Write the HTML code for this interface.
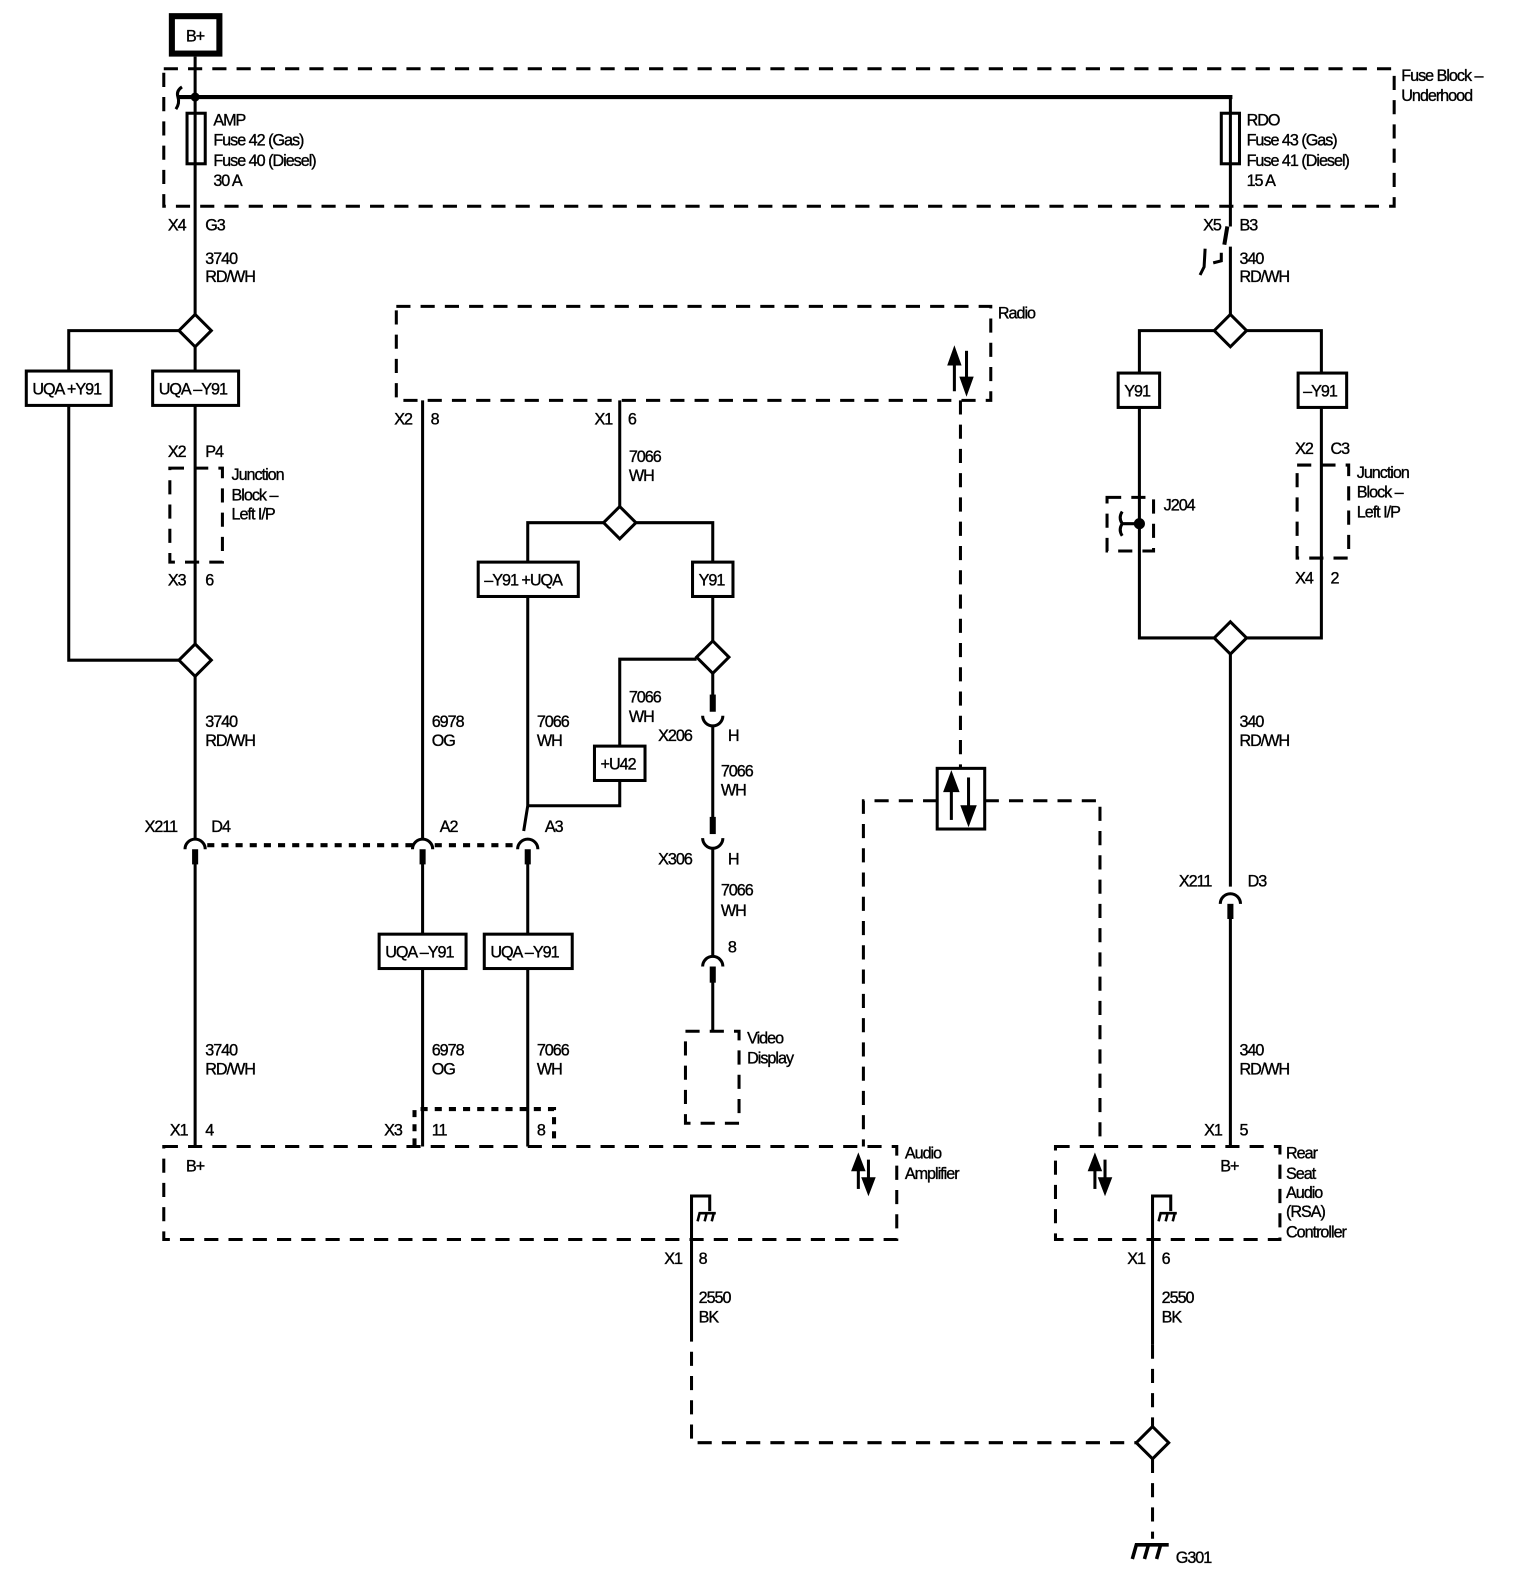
<!DOCTYPE html>
<html><head><meta charset="utf-8"><style>
html,body{margin:0;padding:0;background:#fff;}
svg{display:block;}
text{font-family:"Liberation Sans",sans-serif;font-size:16px;fill:#000;letter-spacing:-1px;stroke:#000;stroke-width:0.35px;}
</style></head><body>
<svg width="1536" height="1584" viewBox="0 0 1536 1584" xmlns="http://www.w3.org/2000/svg">
<rect width="1536" height="1584" fill="#fff"/>
<g transform="scale(1.011)" stroke="#000" fill="none" stroke-width="3">
<rect x="170" y="16" width="47" height="37" stroke-width="6"/>
<text x="184" y="41" stroke-width="0.35">B+</text>
<g stroke-dasharray="14,10">
<rect x="162" y="68" width="1217" height="136"/>
<rect x="392" y="303" width="588" height="93"/>
<rect x="168" y="463" width="52" height="93"/>
<rect x="1095" y="492" width="46" height="53"/>
<rect x="1283" y="460" width="51" height="92"/>
<rect x="678" y="1020" width="53" height="91"/>
<rect x="162" y="1134" width="725" height="92"/>
<rect x="1044" y="1134" width="222" height="92"/>
<polyline points="950,396 950,760"/>
<polyline points="927,792 854,792 854,1134"/>
<polyline points="974,792 1088,792 1088,1134"/>
<polyline points="684,1313 684,1427 1124,1427"/>
<polyline points="1140,1330 1140,1411"/>
<polyline points="1140,1443 1140,1522"/>
</g>
<g stroke-dasharray="7,7" stroke-width="4">
<line x1="205" y1="836" x2="408" y2="836"/>
<line x1="430" y1="836" x2="510" y2="836"/>
<polyline points="410,1133 410,1097 548,1097 548,1133"/>
</g>
<line x1="176" y1="96" x2="1219" y2="96" stroke-width="4"/>
<path d="M180 86 q-6 4 -4 10 q2 6 -2 12" stroke-width="3"/>
<circle cx="193" cy="96" r="3" fill="#000"/>
<rect x="185" y="112" width="18" height="50" fill="#fff"/>
<rect x="1208" y="112" width="18" height="50" fill="#fff"/>
<line x1="193" y1="56" x2="193" y2="830"/>
<line x1="193" y1="850" x2="193" y2="1134"/>
<polyline points="177,327 68,327 68,367"/>
<polyline points="68,401 68,653 177,653"/>
<line x1="418" y1="396" x2="418" y2="830"/>
<line x1="418" y1="850" x2="418" y2="1134"/>
<line x1="613" y1="396" x2="613" y2="501"/>
<polyline points="597,517 522,517 522,556"/>
<polyline points="629,517 705,517 705,556"/>
<polyline points="522,590 522,797 518,822"/>
<line x1="522" y1="850" x2="522" y2="1134"/>
<polyline points="522,797 613,797 613,772"/>
<polyline points="613,738 613,652 689,652"/>
<line x1="705" y1="590" x2="705" y2="634"/>
<line x1="705" y1="666" x2="705" y2="690"/>
<line x1="705" y1="718" x2="705" y2="812"/>
<line x1="705" y1="840" x2="705" y2="946"/>
<line x1="705" y1="970" x2="705" y2="1020"/>
<line x1="1217" y1="96" x2="1217" y2="224"/>
<line x1="1217" y1="244" x2="1217" y2="311"/>
<line x1="1217" y1="647" x2="1217" y2="877"/>
<line x1="1217" y1="898" x2="1217" y2="1134"/>
<polyline points="1201,327 1127,327 1127,369"/>
<polyline points="1233,327 1307,327 1307,369"/>
<polyline points="1127,403 1127,631 1201,631"/>
<polyline points="1307,403 1307,631 1233,631"/>
<path d="M1214 224 l-3 18" stroke-width="4"/>
<path d="M1192 246 l-1 18 l-4 8 M1200 260 l8 -2 l0 -8" stroke-width="3"/>
<circle cx="1127" cy="518" r="4" fill="#000"/>
<path d="M1127 518 h-18 M1110 518 q-4 -6 0 -12 M1110 518 q-4 6 0 12" stroke-width="3"/>
<g fill="#fff">
<polygon points="193,311 209,327 193,343 177,327"/>
<polygon points="193,637 209,653 193,669 177,653"/>
<polygon points="613,501 629,517 613,533 597,517"/>
<polygon points="705,634 721,650 705,666 689,650"/>
<polygon points="1217,311 1233,327 1217,343 1201,327"/>
<polygon points="1217,615 1233,631 1217,647 1201,631"/>
<polygon points="1140,1411 1156,1427 1140,1443 1124,1427"/>
</g>
<g fill="#fff">
<rect x="26" y="367" width="84" height="34"/>
<rect x="151" y="367" width="85" height="34"/>
<rect x="473" y="556" width="99" height="34"/>
<rect x="685" y="556" width="40" height="34"/>
<rect x="588" y="738" width="50" height="34"/>
<rect x="375" y="924" width="86" height="34"/>
<rect x="479" y="924" width="87" height="34"/>
<rect x="1106" y="369" width="41" height="34"/>
<rect x="1284" y="369" width="48" height="34"/>
<rect x="927" y="760" width="47" height="60"/>
</g>
<g>
<path d="M183 840 a10 10 0 0 1 20 0"/><rect x="190" y="840" width="6" height="15" fill="#000" stroke="none"/>
<path d="M408 840 a10 10 0 0 1 20 0"/><rect x="415" y="840" width="6" height="15" fill="#000" stroke="none"/>
<path d="M512 840 a10 10 0 0 1 20 0"/><rect x="519" y="840" width="6" height="15" fill="#000" stroke="none"/>
<path d="M1207 894 a10 10 0 0 1 20 0"/><rect x="1214" y="894" width="6" height="15" fill="#000" stroke="none"/>
<path d="M695 956 a10 10 0 0 1 20 0"/><rect x="702" y="956" width="6" height="16" fill="#000" stroke="none"/>
<rect x="702" y="687" width="6" height="17" fill="#000" stroke="none"/>
<path d="M695 708 a10 10 0 0 0 20 0"/>
<rect x="702" y="808" width="6" height="17" fill="#000" stroke="none"/>
<path d="M695 829 a10 10 0 0 0 20 0"/>
</g>
<g stroke-width="3">
<line x1="944" y1="387" x2="944" y2="358"/><polygon points="939,360 949,360 944,346" fill="#000"/>
<line x1="956" y1="347" x2="956" y2="376"/><polygon points="951,374 961,374 956,388" fill="#000"/>
<line x1="941" y1="811" x2="941" y2="780"/><polygon points="935,782 947,782 941,766" fill="#000"/>
<line x1="958" y1="769" x2="958" y2="800"/><polygon points="952,798 964,798 958,814" fill="#000"/>
<line x1="849" y1="1176" x2="849" y2="1155"/><polygon points="844,1157 854,1157 849,1144" fill="#000"/>
<line x1="859" y1="1147" x2="859" y2="1168"/><polygon points="854,1166 864,1166 859,1179" fill="#000"/>
<line x1="1083" y1="1176" x2="1083" y2="1155"/><polygon points="1078,1157 1088,1157 1083,1144" fill="#000"/>
<line x1="1093" y1="1147" x2="1093" y2="1168"/><polygon points="1088,1166 1098,1166 1093,1179" fill="#000"/>
</g>
<polyline points="684,1313 684,1183 702,1183 702,1198"/>
<path d="M690 1208 l2 -8 h16 M697 1208 l2 -8 M704 1208 l2 -8" stroke-width="2.5"/>
<polyline points="1140,1330 1140,1183 1158,1183 1158,1198"/>
<path d="M1146 1208 l2 -8 h16 M1153 1208 l2 -8 M1160 1208 l2 -8" stroke-width="2.5"/>
<path d="M1120 1542 l4 -14 h32 M1132 1542 l4 -14 M1144 1542 l4 -14" stroke-width="3.5"/>
</g>
<g transform="scale(1.011)">
<text x="211" y="124">AMP</text><text x="211" y="144">Fuse 42 (Gas)</text><text x="211" y="164">Fuse 40 (Diesel)</text><text x="211" y="184">30 A</text>
<text x="1233" y="124">RDO</text><text x="1233" y="144">Fuse 43 (Gas)</text><text x="1233" y="164">Fuse 41 (Diesel)</text><text x="1233" y="184">15 A</text>
<text x="1386" y="80">Fuse Block –</text><text x="1386" y="100">Underhood</text>
<text x="166" y="228">X4</text><text x="203" y="228">G3</text>
<text x="203" y="261">3740</text><text x="203" y="279">RD/WH</text>
<text x="32" y="390">UQA +Y91</text><text x="157" y="390">UQA –Y91</text>
<text x="166" y="452">X2</text><text x="203" y="452">P4</text>
<text x="229" y="475">Junction</text><text x="229" y="495">Block –</text><text x="229" y="514">Left I/P</text>
<text x="166" y="579">X3</text><text x="203" y="579">6</text>
<text x="203" y="719">3740</text><text x="203" y="738">RD/WH</text>
<text x="143" y="823">X211</text><text x="209" y="823">D4</text>
<text x="435" y="823">A2</text><text x="539" y="823">A3</text>
<text x="203" y="1044">3740</text><text x="203" y="1063">RD/WH</text>
<text x="168" y="1123">X1</text><text x="203" y="1123">4</text>
<text x="184" y="1159">B+</text>
<text x="987" y="315">Radio</text>
<text x="390" y="420">X2</text><text x="426" y="420">8</text>
<text x="588" y="420">X1</text><text x="621" y="420">6</text>
<text x="622" y="457">7066</text><text x="622" y="476">WH</text>
<text x="479" y="579">–Y91 +UQA</text><text x="691" y="579">Y91</text>
<text x="622" y="695">7066</text><text x="622" y="714">WH</text>
<text x="594" y="761">+U42</text>
<text x="651" y="733">X206</text><text x="720" y="733">H</text>
<text x="713" y="768">7066</text><text x="713" y="787">WH</text>
<text x="651" y="855">X306</text><text x="720" y="855">H</text>
<text x="713" y="886">7066</text><text x="713" y="906">WH</text>
<text x="720" y="942">8</text>
<text x="739" y="1032">Video</text><text x="739" y="1052">Display</text>
<text x="427" y="719">6978</text><text x="427" y="738">OG</text>
<text x="531" y="719">7066</text><text x="531" y="738">WH</text>
<text x="381" y="947">UQA –Y91</text><text x="485" y="947">UQA –Y91</text>
<text x="427" y="1044">6978</text><text x="427" y="1063">OG</text>
<text x="531" y="1044">7066</text><text x="531" y="1063">WH</text>
<text x="380" y="1123">X3</text><text x="427" y="1123">11</text><text x="531" y="1123">8</text>
<text x="895" y="1146">Audio</text><text x="895" y="1166">Amplifier</text>
<text x="657" y="1250">X1</text><text x="691" y="1250">8</text>
<text x="691" y="1289">2550</text><text x="691" y="1308">BK</text>
<text x="1190" y="228">X5</text><text x="1226" y="228">B3</text>
<text x="1226" y="261">340</text><text x="1226" y="279">RD/WH</text>
<text x="1112" y="392">Y91</text><text x="1289" y="392">–Y91</text>
<text x="1151" y="505">J204</text>
<text x="1281" y="449">X2</text><text x="1316" y="449">C3</text>
<text x="1342" y="473">Junction</text><text x="1342" y="492">Block –</text><text x="1342" y="512">Left I/P</text>
<text x="1281" y="577">X4</text><text x="1316" y="577">2</text>
<text x="1226" y="719">340</text><text x="1226" y="738">RD/WH</text>
<text x="1166" y="877">X211</text><text x="1234" y="877">D3</text>
<text x="1226" y="1044">340</text><text x="1226" y="1063">RD/WH</text>
<text x="1191" y="1123">X1</text><text x="1226" y="1123">5</text>
<text x="1207" y="1159">B+</text>
<text x="1272" y="1146">Rear</text><text x="1272" y="1166">Seat</text><text x="1272" y="1185">Audio</text><text x="1272" y="1204">(RSA)</text><text x="1272" y="1224">Controller</text>
<text x="1115" y="1250">X1</text><text x="1149" y="1250">6</text>
<text x="1149" y="1289">2550</text><text x="1149" y="1308">BK</text>
<text x="1163" y="1546">G301</text>
</g>
</svg>
</body></html>
